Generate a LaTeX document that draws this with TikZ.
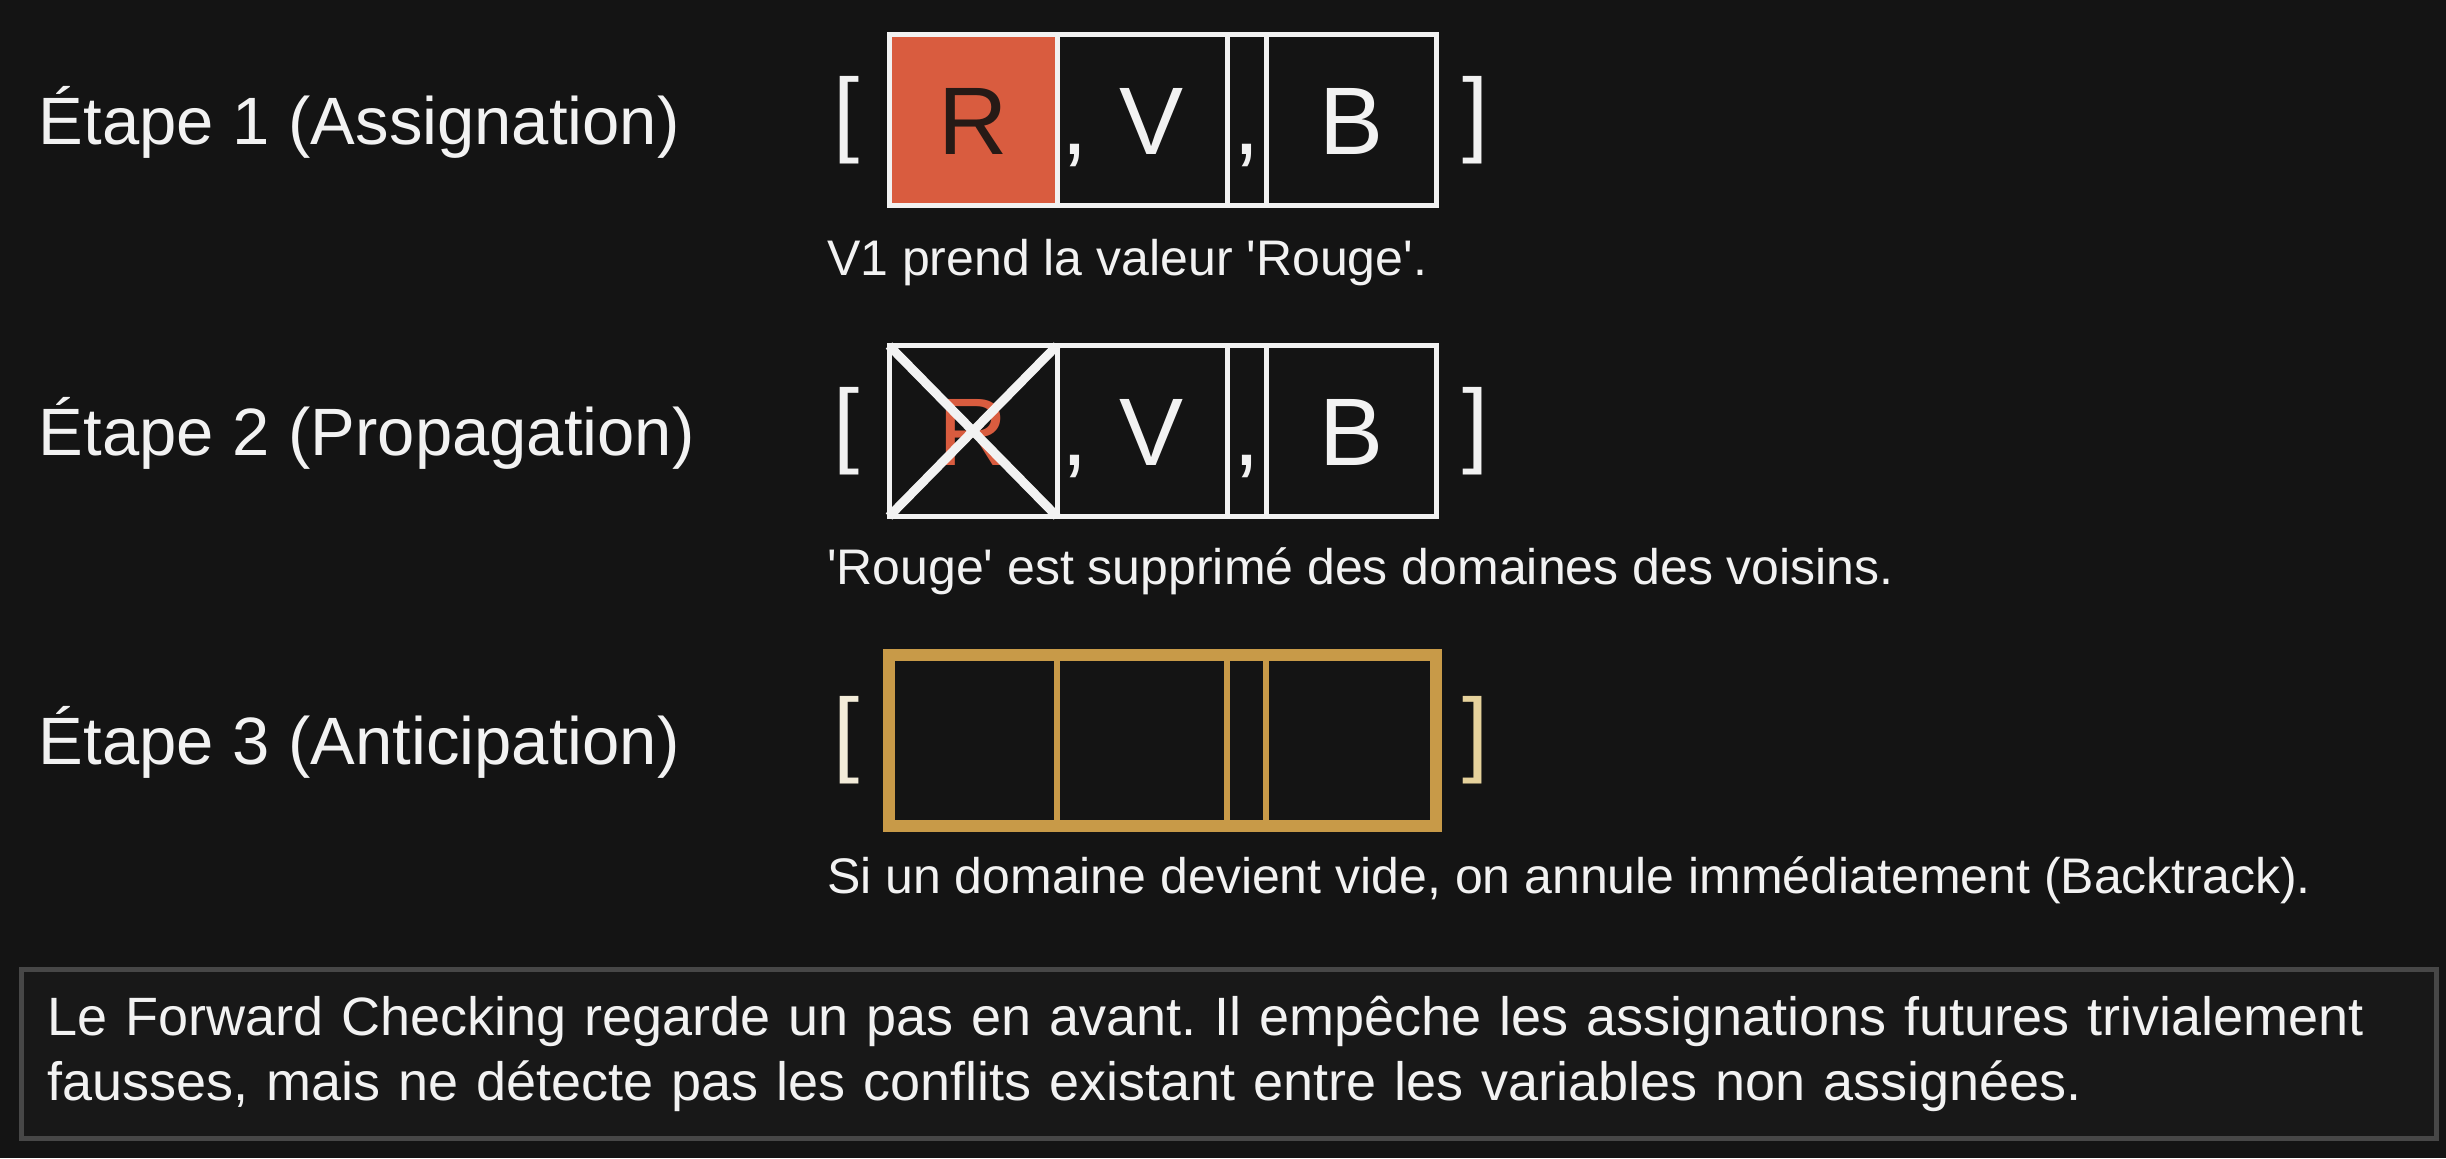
\documentclass[tikz,border=0pt]{standalone}
\usepackage{fontspec}
\setmainfont{Liberation Sans}
\usetikzlibrary{positioning}
\definecolor{bg}{HTML}{141414}
\definecolor{ink}{HTML}{F2F2F2}
\definecolor{rouge}{HTML}{D95C3F}
\definecolor{sombre}{HTML}{261A16}
\definecolor{or}{HTML}{C89A48}
\definecolor{creme}{HTML}{F3ECD9}
\definecolor{orclair}{HTML}{E6D29C}
\definecolor{cadre}{HTML}{474747}
\definecolor{fond}{HTML}{181818}
\frenchspacing
\begin{document}
\begin{tikzpicture}[
        x=0.5pt, y=-0.5pt,
        every node/.style={text=ink, inner sep=0pt, outer sep=0pt},
        etape/.style={anchor=base west, font=\fontsize{33.5}{40}\selectfont},
        legende/.style={anchor=base west, font=\fontsize{25}{30}\selectfont},
        crochet/.style={font=\fontsize{47}{56}\selectfont},
        cell/.style={draw=ink, line width=2.5pt, minimum height=85.5pt, inner xsep=2pt, text height=34.4pt, text depth=0pt, font=\fontsize{48}{56}\selectfont},
        large/.style={cell, minimum width=85pt},
        gauche/.style={large, text width=81pt, align=left},
        etroite/.style={cell, minimum width=19.5pt},
        vide/.style={draw=or, line width=3pt, minimum height=85.5pt},
    ]
    \path[use as bounding box, fill=bg] (0,0) rectangle (2446,1158);

    \node[etape] (e1) at (39,144) {Étape 1 (Assignation)};
    \node[crochet] (o1) at (847,120) {[};
    \node[cell, minimum width=84pt, fill=rouge, text=sombre, anchor=west] (r1a) at (889,120) {R};
    \node[gauche, right=0pt of r1a] (r1b) {, V};
    \node[etroite, right=0pt of r1b] (r1c) {,};
    \node[large, right=0pt of r1c] (r1d) {B};
    \node[crochet] (f1) at (1476,120) {]};
    \node[legende] (t1) at (827,275) {V1 prend la valeur \textquotesingle Rouge\textquotesingle.};

    \node[etape] (e2) at (39,455) {Étape 2 (Propagation)};
    \node[crochet] (o2) at (847,431) {[};
    \node[cell, minimum width=84pt, text=rouge, anchor=west] (r2a) at (889,431) {R};
    \node[gauche, right=0pt of r2a] (r2b) {, V};
    \node[etroite, right=0pt of r2b] (r2c) {,};
    \node[large, right=0pt of r2c] (r2d) {B};
    \node[crochet] (f2) at (1476,431) {]};
    \draw[ink, line width=4.5pt] (r2a.north west) -- (r2a.south east)
        (r2a.north east) -- (r2a.south west);
    \node[legende] (t2) at (827,584) {\textquotesingle Rouge\textquotesingle{} est supprimé des domaines des voisins.};

    \node[etape] (e3) at (39,764) {Étape 3 (Anticipation)};
    \node[crochet, text=creme] (o3) at (847,740) {[};
    \node[vide, minimum width=84pt, anchor=west] (r3a) at (889,740) {};
    \node[vide, minimum width=85pt, right=0pt of r3a] (r3b) {};
    \node[vide, minimum width=19.5pt, right=0pt of r3b] (r3c) {};
    \node[vide, minimum width=85pt, right=0pt of r3c] (r3d) {};
    \draw[or, line width=6pt] (r3a.north west) rectangle (r3d.south east);
    \node[crochet, text=orclair] (f3) at (1476,740) {]};
    \node[legende] (t3) at (827,893) {Si un domaine devient vide, on annule immédiatement (Backtrack).};

    \node[draw=cadre, fill=fond, line width=2.5pt, anchor=north west, minimum width=1207.5pt, minimum height=84.5pt, text width=1181.5pt, align=left, font=\fontsize{27}{32.5}\selectfont] (note) at (21,969) {Le Forward Checking regarde un pas en avant. Il empêche les assignations futures trivialement\\fausses, mais ne détecte pas les conflits existant entre les variables non assignées.};
\end{tikzpicture}
\end{document}
